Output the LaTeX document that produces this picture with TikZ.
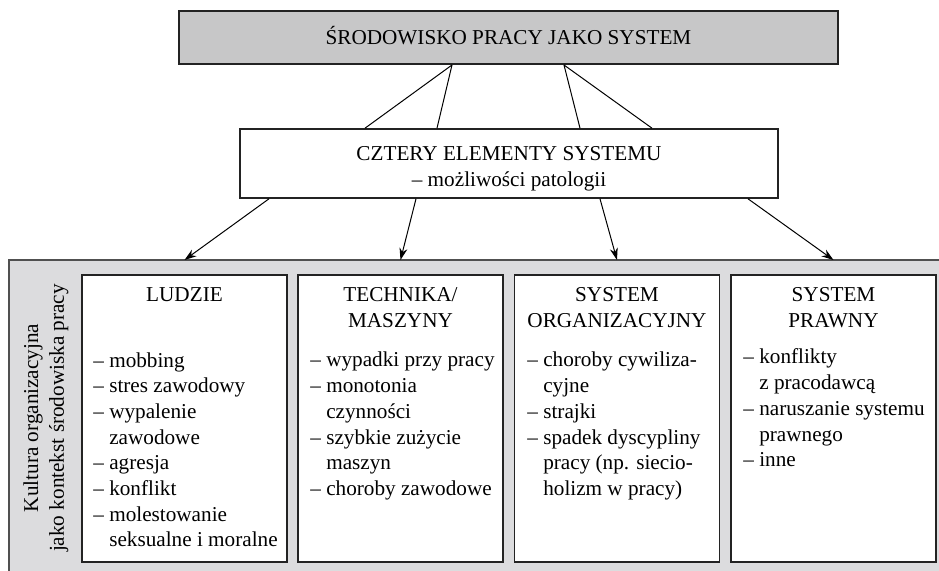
\documentclass[tikz,border=0pt]{standalone}
\usepackage{fontspec}
\setmainfont{Liberation Serif}
\usetikzlibrary{arrows.meta}
\definecolor{titlegray}{RGB}{199,199,200}
\definecolor{bggray}{RGB}{220,220,222}
\definecolor{edgegray}{RGB}{80,80,80}
\definecolor{boxedge}{RGB}{35,35,35}
\begin{document}
\begin{tikzpicture}[x=0.5pt,y=-0.5pt,
  font=\fontsize{10.6pt}{12.85pt}\selectfont,
  topbox/.style={draw=boxedge, line width=1pt, fill=titlegray, inner sep=0pt,
    minimum width=329.5pt, minimum height=26.5pt},
  midbox/.style={draw=boxedge, line width=0.8pt, fill=white, inner sep=0pt,
    minimum width=269pt, minimum height=34.5pt},
  catbox/.style={draw=boxedge, line width=0.8pt, fill=white, inner sep=0pt,
    minimum width=102.5pt, minimum height=143.5pt},
  txt/.style={inner sep=0pt, anchor=base, align=center},
  listtxt/.style={inner sep=0pt, anchor=base west, align=left},
  conn/.style={draw=black, line width=0.5pt},
  arr/.style={conn, -{Stealth[length=6pt,width=4pt]}}
]
\useasboundingbox (0,0) rectangle (939,571);
% background: organisational culture
\fill[bggray] (9,260) rectangle (945,580);
\draw[edgegray, line width=0.8pt, line join=miter] (9,580) -- (9,260) -- (945,260);
\coordinate (bgtop) at (9,260);

% main boxes
\node[topbox] (top) at (508.5,37.5) {};
\node[txt] (toptxt) at (508.5,45) {ŚRODOWISKO PRACY JAKO SYSTEM};

\node[midbox] (mid) at (509,163.5) {};
\node[txt] (midtxt1) at (509,161) {CZTERY ELEMENTY SYSTEMU};
\node[txt] (midtxt2) at (509,187) {– możliwości patologii};

% category boxes
\node[catbox] (ludzie) at (184.5,418.5) {};
\node[catbox] (tech) at (400.5,418.5) {};
\node[catbox] (org) at (617,418.5) {};
\node[catbox] (praw) at (833.5,418.5) {};

% headings (base = last line)
\node[txt] (ludzieh) at (184.5,302) {LUDZIE};
\node[txt] (techh) at (400.5,327.7) {TECHNIKA/\\MASZYNY};
\node[txt] (orgh) at (617,327.7) {SYSTEM\\ORGANIZACYJNY};
\node[txt] (prawh) at (833.5,327.7) {SYSTEM\\PRAWNY};

% lists (base = last line)
\node[listtxt] (ludziel) at (93,547) {– mobbing\\– stres zawodowy\\– wypalenie\\\phantom{– }zawodowe\\– agresja\\– konflikt\\– molestowanie\\\phantom{– }seksualne i moralne};
\node[listtxt] (techl) at (310,495.5) {– wypadki przy pracy\\– monotonia\\\phantom{– }czynności\\– szybkie zużycie\\\phantom{– }maszyn\\– choroby zawodowe};
\node[listtxt] (orgl) at (527,495.5) {– choroby cywiliza-\\\phantom{– }cyjne\\– strajki\\– spadek dyscypliny\\\phantom{– }pracy (np. siecio-\\\phantom{– }holizm w pracy)};
\node[listtxt] (prawl) at (743,466.8) {– konflikty\\\phantom{– }z pracodawcą\\– naruszanie systemu\\\phantom{– }prawnego\\– inne};

% vertical label
\node[inner sep=0pt, align=center, rotate=90] (kultura) at (46,418) {Kultura organizacyjna\\jako kontekst środowiska pracy};

% connectors top -> middle
\draw[conn] ([shift={(-56.5,0)}]top.south) -- ([shift={(-144,0)}]mid.north);
\draw[conn] ([shift={(-56.5,0)}]top.south) -- ([shift={(-72,0)}]mid.north);
\draw[conn] ([shift={(55.5,0)}]top.south) -- ([shift={(71,0)}]mid.north);
\draw[conn] ([shift={(55.5,0)}]top.south) -- ([shift={(143,0)}]mid.north);

% arrows middle -> categories
\draw[arr] ([shift={(-240,0)}]mid.south) -- (ludzie.north |- bgtop);
\draw[arr] ([shift={(-93,0)}]mid.south) -- (tech.north |- bgtop);
\draw[arr] ([shift={(91,0)}]mid.south) -- (org.north |- bgtop);
\draw[arr] ([shift={(239,0)}]mid.south) -- (praw.north |- bgtop);
\end{tikzpicture}
\end{document}
